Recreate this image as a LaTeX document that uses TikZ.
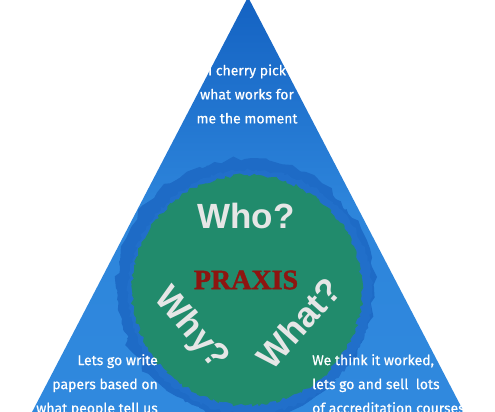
\documentclass[tikz,border=0pt]{standalone}
\usepackage{fontspec}
\setmainfont{Fira Sans}
\newfontfamily\handfont[FakeBold=0.6]{Fira Sans}
\newfontfamily\boldsans{Liberation Sans}
\newfontfamily\serifb[FakeBold=1.5]{Liberation Serif}
\usetikzlibrary{decorations.pathmorphing}
\definecolor{triTop}{HTML}{1462C2}
\definecolor{triBot}{HTML}{3089DE}
\definecolor{ringBlue}{HTML}{1E6BC6}
\definecolor{blobGreen}{HTML}{218B6C}
\definecolor{praxisRed}{HTML}{8E1510}
\definecolor{qGrey}{HTML}{E6E6E6}
\tikzset{
  hand/.style={text=white, font=\handfont\fontsize{14}{24}\selectfont, inner sep=0pt},
  question/.style={text=qGrey, font=\boldsans\bfseries\fontsize{35}{35}\selectfont, inner sep=0pt},
  rough/.style={decorate, decoration={random steps, segment length=3pt, amplitude=1.8pt}},
  lumpy/.style={decorate, decoration={random steps, segment length=9pt, amplitude=3.5pt}}
}
\begin{document}
\begin{tikzpicture}[x=1pt,y=-1pt]
\useasboundingbox (0,0) rectangle (495,412);
\fill[white] (0,0) rectangle (495,412);
\shade[top color=triTop, bottom color=triBot, middle color=triBot!90!triTop]
  (248,-3) -- (466,416) -- (30,416) -- cycle;
\fill[ringBlue, lumpy] (245,288) circle[radius=129];
\fill[ringBlue, rough] (245,288) circle[radius=127];
\fill[ringBlue!85!triBot, rough] (250,292) circle[radius=122];
\fill[blobGreen, rough] (247,290) circle[radius=115];
\node[hand, align=center] (top) at (247,94) {I cherry pick\\what works for\\me the moment};
\node[hand, align=right, anchor=north east] (left) at (158,354) {Lets go write\\papers based on\\what people tell us};
\node[hand, align=left, anchor=north west] (right) at (312,354) {We think it worked,\\lets go and sell\ \ lots\\of accreditation courses};
\node[question] (who) at (246,216) {Who?};
\node[text=praxisRed, font=\serifb\bfseries\fontsize{28}{28}\selectfont, inner sep=0pt] (praxis) at (246,280) {PRAXIS};
\node[question, rotate=-50] (why) at (191,329) {Why?};
\node[question, rotate=48] (what) at (299,323) {What?};
\end{tikzpicture}
\end{document}
